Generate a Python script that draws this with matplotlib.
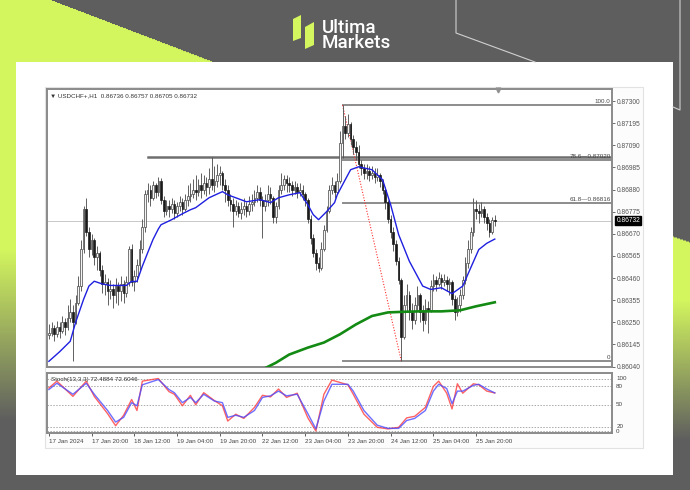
import numpy as np
import matplotlib.pyplot as plt
from matplotlib.patches import Rectangle, Polygon

plt.rcParams['font.family'] = ['Liberation Sans', 'DejaVu Sans']

W, H = 690, 490
BASE = 0.86  # candle values below are points above 0.86000 (1 pt = 0.00001)

# ---- USDCHF H1 candles ----
FIRST_OPEN = 190
CLOSE = [200, 225, 195, 230, 210, 250, 230, 270, 300, 250, 340, 420, 600, 790, 680, 600,
         640, 560, 580, 500, 430, 440, 400, 410, 380, 420, 400, 430, 390, 440, 600, 440,
         470, 520, 600, 700, 860, 880, 840, 900, 870, 920, 830, 780, 800, 790, 810, 770,
         800, 820, 790, 830, 850, 860, 880, 870, 900, 880, 910, 890, 930, 900, 920, 950,
         960, 900, 880, 830, 810, 780, 800, 770, 790, 800, 780, 810, 820, 840, 870, 830,
         800, 830, 860, 840, 750, 800, 880, 900, 930, 910, 900, 880, 890, 870, 880, 860,
         830, 740, 650, 580, 530, 510, 600, 690, 780, 880, 900, 870, 920, 1100, 1180, 1150,
         1190, 1120, 1080, 1060, 1000, 980, 960, 970, 950, 960, 940, 950, 920, 880, 820, 740,
         680, 620, 540, 450, 180, 330, 380, 300, 260, 330, 380, 300, 260, 320, 310, 420,
         450, 430, 460, 440, 450, 430, 440, 360, 300, 330, 380, 450, 530, 600, 680, 790,
         780, 770, 790, 750, 720, 680, 736, 732]
HIGH = [240, 250, 235, 255, 250, 280, 270, 330, 360, 330, 380, 470, 640, 800, 840, 700,
        670, 650, 610, 590, 520, 480, 460, 450, 430, 460, 440, 470, 450, 470, 610, 620,
        500, 550, 640, 740, 880, 910, 900, 920, 910, 940, 935, 850, 830, 830, 840, 830,
        820, 850, 840, 860, 900, 910, 930, 950, 930, 960, 950, 940, 980, 1035, 990, 1000,
        990, 970, 930, 900, 860, 840, 830, 820, 820, 840, 820, 850, 860, 880, 900, 890,
        850, 860, 900, 890, 850, 820, 900, 960, 950, 950, 940, 920, 920, 910, 910, 900,
        870, 840, 760, 670, 600, 560, 630, 710, 800, 900, 940, 920, 960, 1160, 1280, 1230,
        1240, 1200, 1140, 1110, 1090, 1020, 1000, 1000, 990, 990, 980, 980, 960, 930, 890, 830,
        760, 700, 640, 560, 460, 380, 430, 400, 340, 370, 420, 390, 330, 360, 350, 450,
        480, 470, 490, 480, 480, 470, 460, 450, 380, 370, 410, 470, 560, 640, 700, 841,
        830, 810, 820, 800, 770, 740, 750, 757]
LOW = [170, 185, 160, 180, 175, 200, 190, 215, 250, 65, 240, 330, 400, 580, 660, 560,
       570, 520, 500, 470, 390, 380, 330, 360, 320, 340, 330, 350, 340, 370, 420, 420,
       400, 440, 500, 580, 680, 820, 800, 830, 840, 850, 810, 750, 760, 750, 770, 740,
       750, 780, 760, 780, 800, 820, 840, 830, 850, 840, 860, 850, 860, 880, 870, 890,
       900, 880, 820, 800, 780, 700, 760, 750, 740, 760, 750, 760, 780, 800, 820, 800,
       650, 780, 800, 810, 720, 720, 790, 860, 880, 870, 870, 850, 860, 840, 850, 830,
       800, 720, 620, 560, 500, 490, 500, 590, 680, 770, 860, 840, 860, 910, 1030, 1120,
       1130, 1090, 1050, 1020, 980, 950, 930, 930, 920, 930, 910, 920, 890, 860, 790, 720,
       650, 590, 520, 430, 66, 170, 300, 260, 220, 240, 310, 250, 210, 240, 200, 300,
       400, 400, 420, 410, 420, 400, 380, 330, 260, 280, 300, 360, 430, 510, 580, 660,
       740, 720, 750, 720, 690, 655, 670, 705]

# moving averages (blue fast, green slow), sampled at bar indices
MA_FAST_BARS = [0, 4, 8, 10, 13, 15, 17, 20, 23, 29, 31, 33, 35, 37, 39, 41, 42, 46, 50, 53,
                55, 60, 65, 67, 74, 79, 83, 86, 90, 94, 97, 99, 101, 104, 107, 108, 110, 113,
                116, 121, 125, 128, 131, 135, 140, 143, 147, 151, 155, 158, 161, 164, 167]
MA_FAST_PTS = [65, 110, 160, 249, 359, 422, 445, 432, 425, 425, 444, 444, 516, 580, 643, 693,
               713, 737, 765, 784, 794, 841, 870, 855, 822, 832, 818, 841, 855, 865, 808, 761,
               737, 775, 818, 855, 903, 974, 988, 974, 926, 808, 666, 540, 422, 406, 414,
               386, 422, 509, 595, 625, 645]
MA_SLOW_BARS = [79, 85, 90, 97, 103, 109, 115, 121, 127, 133, 139, 147, 154, 160, 167]
MA_SLOW_PTS = [20, 58, 97, 130, 154, 193, 240, 280, 297, 300, 302, 302, 307, 326, 345]

# Stochastic(13,3,3)
STOCH_BARS = [0, 3, 9, 14, 17, 22, 25, 28, 31, 33, 35, 41, 45, 47, 50, 53, 55, 58, 62, 65,
              67, 70, 73, 77, 80, 83, 86, 89, 93, 97, 100, 103, 106, 112, 114, 118, 123, 127,
              131, 134, 137, 141, 144, 146, 149, 151, 153, 155, 159, 161, 164, 167]
STOCH_SIGNAL = [79, 91, 70, 91, 70, 39, 17, 26, 54, 48, 88, 98, 79, 73, 54, 64, 54, 70, 57, 54,
                26, 30, 26, 39, 64, 67, 76, 67, 70, 33, 4, 57, 89, 89, 76, 39, 11, 5,
                5, 20, 24, 39, 76, 89, 81, 52, 76, 76, 87, 89, 80, 72.6]
STOCH_MAIN = [82, 95, 66, 95, 66, 33, 10, 30, 60, 39, 95, 100, 75, 70, 48, 68, 50, 73, 58, 48,
              19, 32, 24, 45, 68, 65, 80, 64, 72, 25, 0, 70, 97, 88, 70, 32, 7, 4,
              7, 25, 28, 45, 85, 95, 72, 42, 90, 72, 90, 88, 76, 72.5]
STOCH_LEVELS = [100, 85, 50, 8, 0]
STOCH_LABELS = ["100", "80", "50", "20", "0"]

PRICE_TICKS = [0.87300, 0.87195, 0.87090, 0.86985, 0.86880, 0.86775, 0.86670,
               0.86565, 0.86460, 0.86355, 0.86250, 0.86145, 0.86040]
DATE_BARS = [0, 16, 32, 48, 64, 80, 96, 112, 128, 144, 160]
DATE_LABELS = ["17 Jan 2024", "17 Jan 20:00", "18 Jan 12:00", "19 Jan 04:00", "19 Jan 20:00",
               "22 Jan 12:00", "23 Jan 04:00", "23 Jan 20:00", "24 Jan 12:00",
               "25 Jan 04:00", "25 Jan 20:00"]

FIB_BAR_HIGH, FIB_BAR_LOW = 110, 132
FIB_LEVELS = ["100.0", "78.6", "61.8", "0"]
FIB_PRICES = [0.87280, 0.87020, 0.86816, 0.86066]
RESIST_BAR, RESIST_PRICE = 37, 0.87034
LAST_PRICE = 0.86732
HEADER = "\u25bc USDCHF+,H1  0.86736 0.86757 0.86705 0.86732"
STOCH_HEADER = "Stoch(13,3,3) 72.4884 72.6046"

GRAY = np.array([0.37, 0.37, 0.37])
LIME = np.array([0.83, 0.965, 0.37])

fig = plt.figure(figsize=(W / 100, H / 100), dpi=100)

# ---- branded background ----
bg = fig.add_axes([0, 0, 1, 1])
yy, xx = np.mgrid[0:H, 0:W] + 0.5
img = np.ones((H, W, 3)) * GRAY
t = np.clip((yy - 250) / 170, 0, 1)[..., None]
mix = LIME * (1 - t) + GRAY * t
left = xx < 48 + 2.63 * yy
img[left] = mix[left]
t2 = np.clip((yy - 300) / 140, 0, 1)[..., None]
mix2 = LIME * (1 - t2) + GRAY * t2
right = (xx >= 673) & (yy > 237 + 0.35 * (xx - 673))
img[right] = mix2[right]
bg.imshow(img, extent=(0, W, H, 0), aspect='auto', interpolation='bilinear')
bg.plot([456, 456, 535], [0, 33, 62], color='#d0d0d0', lw=0.8)
bg.plot([680, 680, 673], [0, 110, 107], color='#d0d0d0', lw=0.8)
bg.add_patch(Rectangle((16, 62), 657, 413, fc='white', ec='none'))
bg.add_patch(Rectangle((45, 87), 598, 361, fc='#fcfcfc', ec='#e2e2e2', lw=0.8))
bg.add_patch(Polygon([(293, 19), (301, 15), (301, 38), (293, 41)], fc='#d4f65e', ec='none'))
bg.add_patch(Polygon([(305, 27), (314, 22), (314, 45), (305, 49)], fc='#d4f65e', ec='none'))
bg.text(322, 52, "Ultima\nMarkets", color='white', fontsize=13.5, family='Roboto',
        fontweight='medium', va='bottom', ha='left', linespacing=0.78)
bg.set_xlim(0, W)
bg.set_ylim(H, 0)
bg.axis('off')

# ---- main price window ----
ax = fig.add_axes([47 / W, (H - 367) / H, 565 / W, 278 / H])
c = BASE + np.array(CLOSE) / 1e5
hi = BASE + np.array(HIGH) / 1e5
lo = BASE + np.array(LOW) / 1e5
o = np.r_[BASE + FIRST_OPEN / 1e5, c[:-1]]
x = np.arange(len(c))
up = c >= o

ax.axhline(LAST_PRICE, color='#c8c8c8', lw=0.7, zorder=1)
ax.plot([RESIST_BAR, 210.9], [RESIST_PRICE] * 2, color='#6e6e6e', lw=1.8, zorder=2)
for lvl, p in zip(FIB_LEVELS, FIB_PRICES):
    ax.plot([FIB_BAR_HIGH, 210.9], [p, p], color='#8c8c8c', lw=1.4, zorder=2)
    txt = lvl if lvl in ("100.0", "0") else f"{lvl}\u2014{p:.5f}"
    ax.annotate(txt, xy=(1, p), xycoords=('axes fraction', 'data'), xytext=(-1, 0.6),
                textcoords='offset points', ha='right', va='bottom', fontsize=4.5,
                color='#444444')
ax.plot([FIB_BAR_HIGH, FIB_BAR_LOW], [FIB_PRICES[0], FIB_PRICES[-1]], color='#ff3030',
        lw=0.8, ls=(0, (1, 1.5)), zorder=3)

ax.vlines(x, lo, hi, color='#555555', lw=0.65, zorder=4)
ax.bar(x[up], (c - o)[up], bottom=o[up], width=0.62, color='#f4f4f4', edgecolor='#444444',
       lw=0.5, zorder=5)
ax.bar(x[~up], (o - c)[~up], bottom=c[~up], width=0.62, color='#1a1a1a', edgecolor='#1a1a1a',
       lw=0.5, zorder=5)

ax.plot(MA_SLOW_BARS, BASE + np.array(MA_SLOW_PTS) / 1e5, color='#138a13', lw=1.9, zorder=6)
ax.plot(MA_FAST_BARS, BASE + np.array(MA_FAST_PTS) / 1e5, color='#1f1fe0', lw=1.0, zorder=6)

ax.set_xlim(-0.7, 210.9)
ax.set_ylim(0.86038, 0.87357)
ax.set_xticks([])
ax.yaxis.tick_right()
ax.set_yticks(PRICE_TICKS)
ax.set_yticklabels([f"{p:.5f}" for p in PRICE_TICKS])
ax.tick_params(axis='y', length=2.5, width=0.6, colors='#555555', labelsize=4.8, pad=1.2)
ax.annotate(f"{LAST_PRICE:.5f}", xy=(1, LAST_PRICE), xycoords=('axes fraction', 'data'),
            xytext=(3.2, 0), textcoords='offset points', ha='left', va='center',
            fontsize=4.8, color='white',
            bbox=dict(boxstyle='square,pad=0.15', fc='black', ec='black'))
ax.text(0.005, 0.975, HEADER, transform=ax.transAxes, fontsize=4.5, color='#333333',
        va='center', ha='left')
ax.plot([168.2], [0.87352], marker='v', ms=3.5, color='#909090', clip_on=False, zorder=7)
for s in ax.spines.values():
    s.set_color('#8a8a8a')
    s.set_linewidth(1.4)

# ---- stochastic window ----
ax2 = fig.add_axes([47 / W, (H - 433) / H, 565 / W, 60 / H])
for lv, lab in zip(STOCH_LEVELS, STOCH_LABELS):
    ax2.axhline(lv, color='#aaaaaa', lw=0.7, ls=(0, (1.5, 1.5)))
    ax2.annotate(lab, xy=(1, lv), xycoords=('axes fraction', 'data'), xytext=(3, 0),
                 textcoords='offset points', ha='left', va='center', fontsize=4.5,
                 color='#444444', annotation_clip=False)
ax2.plot(STOCH_BARS, STOCH_MAIN, color='#ff3b3b', lw=1.0, alpha=0.8)
ax2.plot(STOCH_BARS, STOCH_SIGNAL, color='#4b4bff', lw=1.0, alpha=0.8)
ax2.text(0.007, 0.93, STOCH_HEADER, transform=ax2.transAxes, fontsize=4.5, color='#333333',
         va='top', ha='left')
ax2.set_xlim(-0.7, 210.9)
ax2.set_ylim(-3.8, 110.5)
ax2.set_yticks([])
ax2.set_xticks(DATE_BARS)
ax2.set_xticklabels(DATE_LABELS, ha='left')
ax2.tick_params(axis='x', length=2.5, width=0.6, colors='#444444', labelsize=4.5, pad=1.5)
for s in ax2.spines.values():
    s.set_color('#8a8a8a')
    s.set_linewidth(1.4)

fig.savefig('out.png', dpi=100)
